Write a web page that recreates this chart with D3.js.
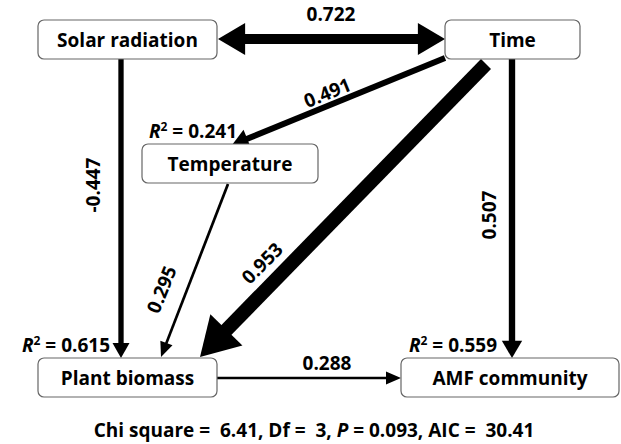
<!DOCTYPE html>
<html><head><meta charset="utf-8">
<script src="https://cdn.jsdelivr.net/npm/d3@7"></script>
<style>body{margin:0;background:#fff}text{font-family:"Liberation Sans Narrow","Open Sans",sans-serif;font-weight:bold;white-space:pre}</style>
</head><body><div id="chart"></div>
<script>
// path model: nodes, coefficients, R squared
var nodeNames = ["Solar radiation", "Time", "Temperature", "Plant biomass", "AMF community"];
var pathFrom = ["Solar radiation", "Time", "Time", "Temperature", "Time", "Time", "Plant biomass"];
var pathTo = ["Time", "Temperature", "Plant biomass", "Plant biomass", "Plant biomass", "AMF community", "AMF community"];
var pathCoef = [0.722, 0.491, -0.447, 0.295, 0.953, 0.507, 0.288];
var r2Nodes = ["Temperature", "Plant biomass", "AMF community"];
var r2Values = [0.241, 0.615, 0.559];
var fitLabel = ["Chi square = ", "6.41", "Df = ", "3", "P", "0.093", "AIC = ", "30.41"];

// layout (boxes)
var box = {
  "Solar radiation": [38, 20, 179, 39],
  "Time": [445, 20, 135, 39],
  "Temperature": [142, 144, 176, 39],
  "Plant biomass": [38, 358, 179, 39],
  "AMF community": [401, 358, 218, 39]
};
// edge endpoints, label position & rotation
var geo = [
  {p: [[218, 39], [445, 39]], both: true, l: [331, 21], r: 0},
  {p: [[445, 58], [232, 145]], l: [330, 99], r: -22},
  {p: [[121, 59], [121, 358]], l: [100, 185], r: -90},
  {p: [[228, 184], [161, 357]], l: [168, 292], r: -68},
  {p: [[486, 64], [200, 357]], l: [267, 268], r: -45},
  {p: [[512, 59], [512, 358]], l: [496, 215], r: -90},
  {p: [[217, 378], [401, 378]], l: [327, 370], r: 0}
];
var r2Pos = {"Temperature": [237, 138], "Plant biomass": [110, 352], "AMF community": [497, 352]};

var W = 621, H = 444, FS = 19;
var svg = d3.select("#chart").append("svg").attr("width", W).attr("height", H);
var widthScale = d3.scaleLinear().domain([0.288, 0.953]).range([2.6, 14]);

function head(g, tip, from, w){
  var dx = tip[0]-from[0], dy = tip[1]-from[1], len = Math.hypot(dx, dy);
  var ux = dx/len, uy = dy/len;
  var hl = Math.max(15, w*2.7), hw = Math.max(6.5, w*1.6);
  var bx = tip[0]-ux*hl, by = tip[1]-uy*hl;
  g.append("path").attr("d", "M" + tip + "L" + [bx-uy*hw, by+ux*hw] + "L" + [bx+uy*hw, by-ux*hw] + "Z").attr("fill", "#000");
  return [bx+ux*2, by+uy*2];
}

pathCoef.forEach(function(c, i){
  var g = svg.append("g"), e = geo[i], w = widthScale(Math.abs(c));
  var a = e.p[0], b = e.p[1];
  var b2 = head(g, b, a, w);
  var a2 = e.both ? head(g, a, b, w) : a;
  g.append("line").attr("x1", a2[0]).attr("y1", a2[1]).attr("x2", b2[0]).attr("y2", b2[1])
    .attr("stroke", "#000").attr("stroke-width", w);
  g.append("text").attr("transform", "translate(" + e.l + ") rotate(" + e.r + ")")
    .attr("text-anchor", "middle").attr("font-size", FS).text(c.toFixed(3));
});

nodeNames.forEach(function(n){
  var b = box[n];
  svg.append("rect").attr("x", b[0]).attr("y", b[1]).attr("width", b[2]).attr("height", b[3])
    .attr("rx", 6).attr("fill", "#fff").attr("stroke", "#666").attr("stroke-width", 1.2);
  svg.append("text").attr("x", b[0]+b[2]/2).attr("y", b[1]+b[3]/2+7).attr("text-anchor", "middle")
    .attr("font-size", FS).text(n);
});

r2Nodes.forEach(function(n, i){
  var p = r2Pos[n];
  var t = svg.append("text").attr("x", p[0]).attr("y", p[1]).attr("text-anchor", "end").attr("font-size", FS);
  t.append("tspan").attr("font-style", "italic").text("R");
  t.append("tspan").attr("font-size", 12).attr("dy", -7).text("2");
  t.append("tspan").attr("dy", 7).text(" = " + r2Values[i].toFixed(3));
});

var f = svg.append("text").attr("x", 314).attr("y", 437).attr("text-anchor", "middle").attr("font-size", FS);
f.append("tspan").text(fitLabel[0] + " " + fitLabel[1] + ", " + fitLabel[2] + " " + fitLabel[3] + ", ");
f.append("tspan").attr("font-style", "italic").text(fitLabel[4]);
f.append("tspan").text(" = " + fitLabel[5] + ", " + fitLabel[6] + " " + fitLabel[7]);
</script></body></html>
